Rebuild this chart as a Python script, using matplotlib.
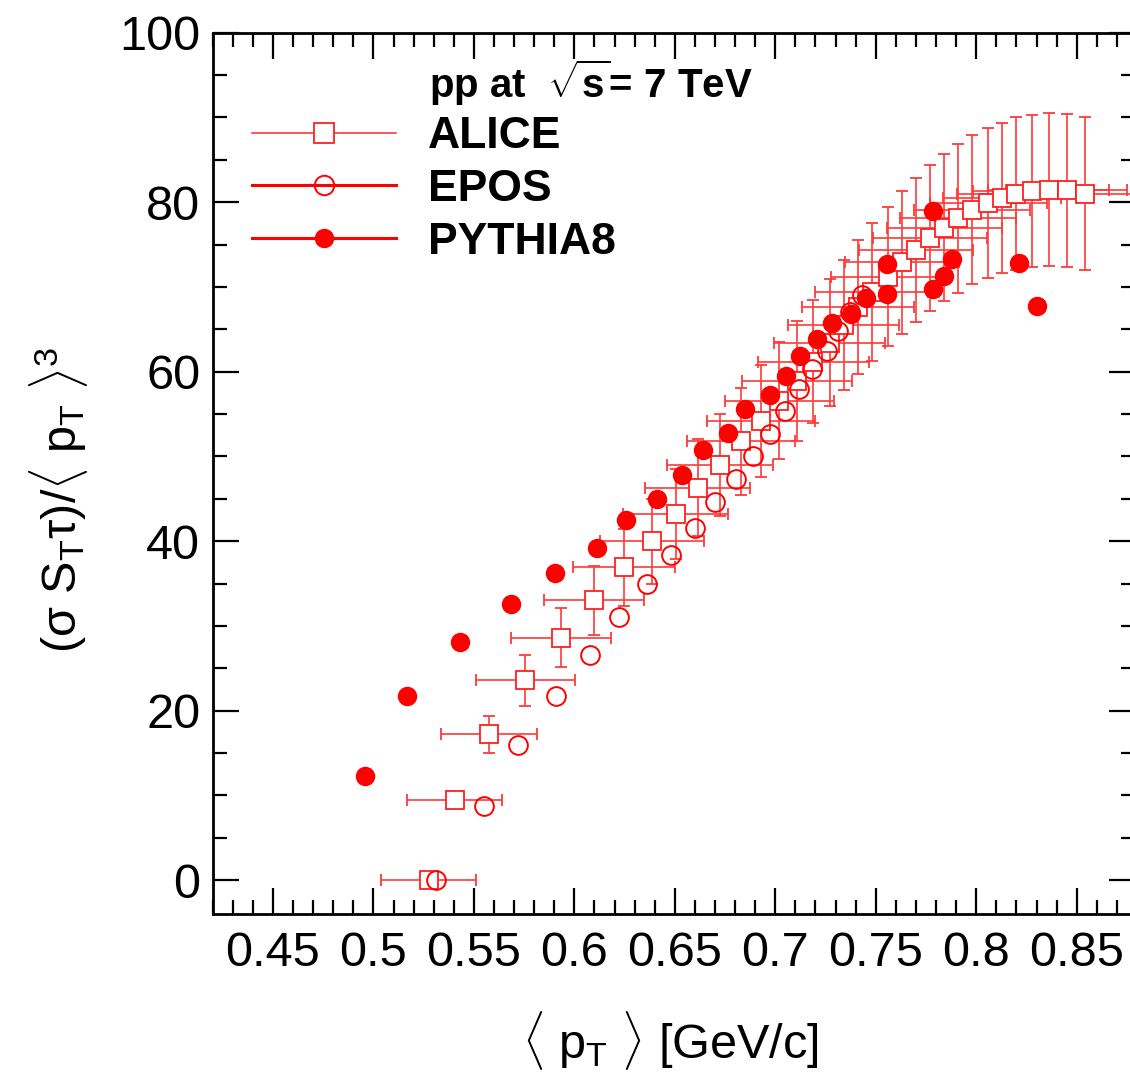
import matplotlib
matplotlib.use("Agg")
import matplotlib.pyplot as plt
from matplotlib.lines import Line2D
from matplotlib.ticker import MultipleLocator

plt.rcParams['font.family'] = ['Liberation Sans', 'DejaVu Sans']
plt.rcParams['mathtext.fontset'] = 'custom'
plt.rcParams['mathtext.rm'] = 'Liberation Sans'
plt.rcParams['mathtext.it'] = 'Liberation Sans:italic'
plt.rcParams['mathtext.bf'] = 'Liberation Sans:bold'

# ALICE data (open squares with errors)
alice_x = [0.5276, 0.5405, 0.5575, 0.5756, 0.5935, 0.6098, 0.6246, 0.6387, 0.6504, 0.6614,
           0.6724, 0.6830, 0.6930, 0.7020, 0.7110, 0.7190, 0.7270, 0.7340, 0.7410, 0.7480,
           0.7560, 0.7630, 0.7700, 0.7770, 0.7840, 0.7910, 0.7980, 0.8060, 0.8130, 0.8200,
           0.8280, 0.8360, 0.8450, 0.8540]
alice_y = [0.0, 9.5, 17.2, 23.6, 28.6, 33.0, 36.9, 40.0, 43.2, 46.3,
           49.0, 51.8, 54.2, 56.6, 58.9, 61.2, 63.4, 65.5, 67.6, 69.4,
           71.2, 72.9, 74.4, 75.8, 77.0, 78.1, 79.1, 79.9, 80.5, 81.0,
           81.3, 81.5, 81.4, 81.0]
alice_xerr = [0.0237, 0.0237, 0.0240, 0.0245, 0.0248, 0.0250, 0.0255, 0.0258, 0.0260, 0.0262,
              0.0265, 0.0267, 0.0270, 0.0272, 0.0274, 0.0275, 0.0276, 0.0278, 0.0279, 0.0280,
              0.0281, 0.0282, 0.0283, 0.0285, 0.0286, 0.0288, 0.0290, 0.0292, 0.0294, 0.0296,
              0.0298, 0.0300, 0.0300, 0.0300]
alice_yerr = [0.3, 0.6, 2.2, 3.0, 3.5, 4.1, 4.5, 5.0, 5.3, 5.7,
              6.0, 6.3, 6.6, 6.9, 7.1, 7.3, 7.5, 7.7, 7.9, 8.1,
              8.2, 8.4, 8.5, 8.6, 8.7, 8.8, 8.8, 8.9, 8.9, 9.0,
              9.0, 9.0, 9.0, 9.0]

# EPOS (open circles)
epos_x = [0.531, 0.555, 0.572, 0.591, 0.6076, 0.6222, 0.6363, 0.6483, 0.6602, 0.6698,
          0.6802, 0.6891, 0.6975, 0.7048, 0.7118, 0.7183, 0.7257, 0.7312, 0.7370, 0.7430]
epos_y = [0.0, 8.7, 15.9, 21.7, 26.6, 31.0, 34.9, 38.4, 41.5, 44.6,
          47.3, 50.1, 52.6, 55.4, 58.0, 60.3, 62.5, 64.8, 67.0, 69.0]

# PYTHIA8 (filled circles)
pythia_x = [0.496, 0.5166, 0.5429, 0.5683, 0.5905, 0.6114, 0.6255, 0.6412, 0.6538, 0.6639,
            0.6765, 0.6850, 0.6972, 0.7055, 0.7125, 0.7206, 0.7280, 0.7376, 0.7450, 0.7554,
            0.7556, 0.7786, 0.7783, 0.7838, 0.7881, 0.8212, 0.8301]
pythia_y = [12.3, 21.7, 28.1, 32.6, 36.3, 39.2, 42.5, 45.0, 47.8, 50.8,
            52.8, 55.6, 57.2, 59.5, 61.9, 63.8, 65.8, 66.8, 68.7, 72.7,
            69.2, 79.0, 69.7, 71.3, 73.3, 72.8, 67.8]

fig = plt.figure(figsize=(11.30, 10.84), dpi=100)
ax = fig.add_axes([0.1882, 0.1568, 0.8162, 0.8130])

ax.errorbar(alice_x, alice_y, xerr=alice_xerr, yerr=alice_yerr, fmt='s',
            color='#ff2a2a', ecolor='#ff3a3a', elinewidth=1.2, capsize=4, capthick=1.2,
            ms=13, mfc='white', mec='#ff2020', mew=1.3, zorder=2)
ax.plot(epos_x, epos_y, 'o', ms=13.5, mfc='none', mec='red', mew=1.4, zorder=3)
ax.plot(pythia_x, pythia_y, 'o', ms=13, color='red', mec='red', zorder=4)

ax.set_xlim(0.42, 0.879)
ax.set_ylim(-4, 100)
ax.xaxis.set_minor_locator(MultipleLocator(0.01))
ax.yaxis.set_major_locator(MultipleLocator(20))
ax.yaxis.set_minor_locator(MultipleLocator(5))
ax.set_xticks([0.45, 0.5, 0.55, 0.6, 0.65, 0.7, 0.75, 0.8, 0.85])
ax.set_xticklabels(['0.45', '0.5', '0.55', '0.6', '0.65', '0.7', '0.75', '0.8', '0.85'])
ax.tick_params(which='both', direction='in', top=True, right=True, width=1.6, labelsize=35)
ax.tick_params(which='major', length=19)
ax.tick_params(which='minor', length=10)
ax.tick_params(axis='x', which='major', pad=12)
ax.tick_params(axis='y', which='major', pad=9)
for s in ax.spines.values():
    s.set_linewidth(2)

fig.text(670 / 1130, 1 - 1040 / 1084, r'$\langle$ p$_{\rm T}$ $\rangle$ [GeV/c]',
         ha='center', va='center', fontsize=35)
fig.text(58 / 1130, 1 - 500 / 1084,
         r'(σ S$_{\rm T}$τ)/$\langle$ p$_{\rm T}$ $\rangle^{3}$',
         ha='center', va='center', rotation=90, fontsize=35)

ax.text(0.235, 0.9435, r'pp at  $\sqrt{\mathbf{s}}$= 7 TeV', transform=ax.transAxes,
        ha='left', va='center', fontsize=29, fontweight='bold')

handles = [
    Line2D([], [], color='#ff3a3a', lw=1.2, marker='s', ms=14, mfc='white', mec='#ff2020', mew=1.3),
    Line2D([], [], color='red', lw=2.2, marker='o', ms=14, mfc='none', mec='red', mew=1.4),
    Line2D([], [], color='red', lw=2.2, marker='o', ms=13, mfc='red', mec='red'),
]
ax.legend(handles, ['ALICE', 'EPOS', 'PYTHIA8'], loc='upper left', bbox_to_anchor=(0.0426, 0.905),
          frameon=False, borderpad=0, borderaxespad=0, handlelength=3.25, handletextpad=0.7,
          labelspacing=0.26, prop={'weight': 'bold', 'size': 32})

fig.savefig('out.png', dpi=100)
